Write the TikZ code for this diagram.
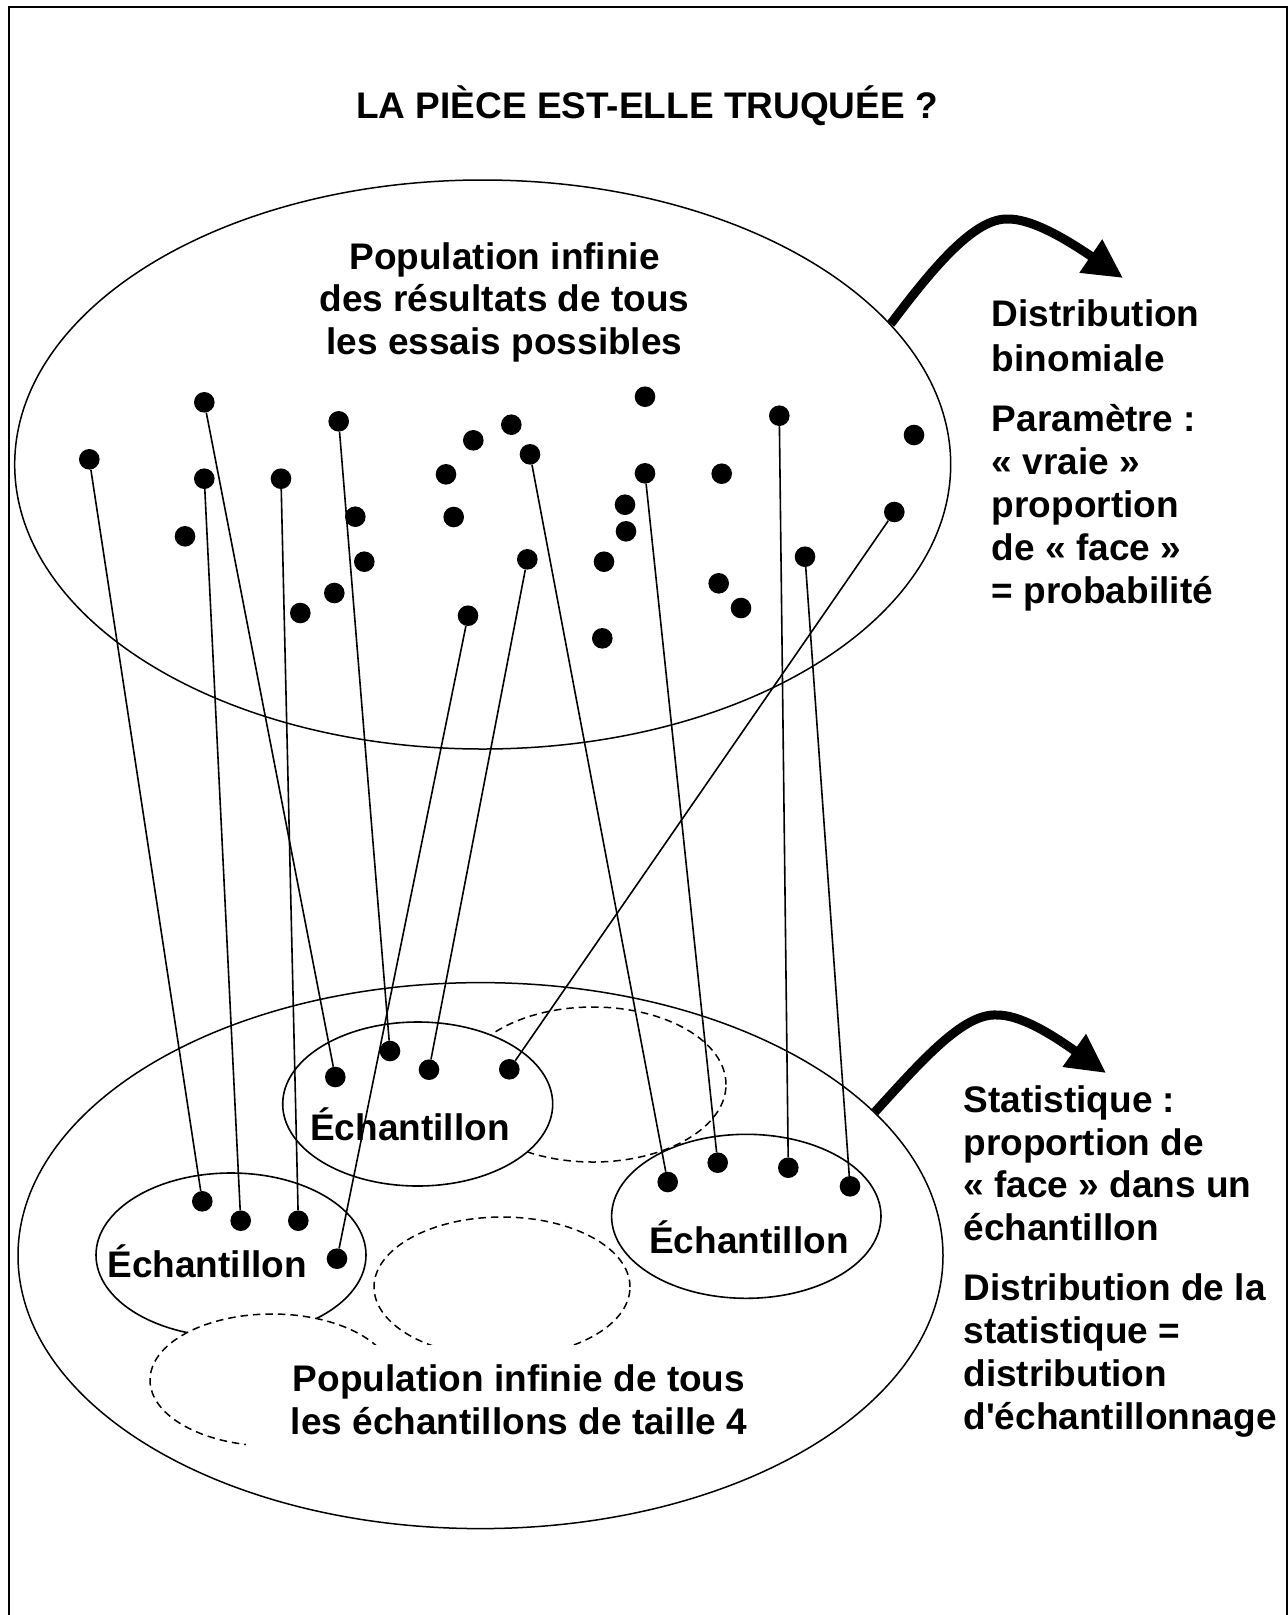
\documentclass[tikz,border=0pt]{standalone}
\usepackage{fontspec}
\setmainfont{Liberation Sans}
\usetikzlibrary{shapes.geometric,arrows.meta}
\begin{document}
\begin{tikzpicture}[x=1pt,y=-1pt,
  frameline/.style={line width=2pt},
  bigell/.style={ellipse,draw,line width=1.5pt,inner sep=0pt},
  sample/.style={ellipse,draw,fill=white,line width=1.6pt,inner sep=0pt,minimum width=270pt,minimum height=164pt},
  dashell/.style={ellipse,draw,fill=white,line width=1.5pt,dash pattern=on 7.5pt off 5pt,inner sep=0pt},
  dot/.style={circle,fill=black,inner sep=0pt,minimum size=20.6pt},
  link/.style={line width=1.6pt},
  txt/.style={font=\fontsize{37}{42.5}\selectfont\bfseries,inner sep=0pt},
  bigarrow/.style={line width=9pt,-{Triangle[length=39pt,width=38pt]}}
]
\useasboundingbox (0,0) rectangle (1288,1615);
\draw[frameline] (9,1630) -- (9,7) -- (1287,7) -- (1287,1630);

% title
\node[txt,anchor=base] (title) at (647,118.5) {LA PIÈCE EST-ELLE TRUQUÉE ?};

% population ellipses
\node[bigell,minimum width=936pt,minimum height=569pt] (popA) at (482.7,464.5) {};
\node[bigell,minimum width=925pt,minimum height=546pt] (popB) at (480.5,1255.6) {};

% sample ellipses (dashed ones are other possible samples)
\node[dashell,minimum width=266pt,minimum height=155pt] (dTR) at (593,1084.5) {};
\node[sample] (sM) at (417.7,1104) {};
\node[sample,minimum width=269.4pt] (sR) at (746.3,1216.3) {};
\node[sample] (sL) at (231,1255) {};
\node[dashell,minimum width=256pt,minimum height=140pt] (dC) at (502,1287) {};
\node[dashell,minimum width=244pt,minimum height=132pt] (dBL) at (272,1380) {};

% white box behind the lower population text
\fill[white] (246,1345) rectangle (760,1450);
\node[txt,anchor=base] (popBa) at (519,1391.7) {Population infinie de tous};
\node[txt,anchor=base] (popBb) at (519,1434) {les échantillons de taille 4};

% upper population text
\node[txt,anchor=base] (popAa) at (504.5,269) {Population infinie};
\node[txt,anchor=base] (popAb) at (504.5,311.5) {des résultats de tous};
\node[txt,anchor=base] (popAc) at (504.5,354) {les essais possibles};

% dots of the upper population
\foreach \n/\x/\y in {1/89.3/459.3, 2/204.3/402.3, 3/338.7/421.3, 4/473.3/440.3,
  5/204.3/478.7, 6/281/478.7, 7/446/474.3, 8/453.7/517, 9/185/536.3,
  10/355.3/516.7, 11/364.3/561.7, 12/334.3/593, 13/300.3/613, 14/468/615.7,
  15/511.3/424.7, 16/645/396.7, 17/779.3/415.7, 18/914/435, 19/530/454.3,
  20/645/473.3, 21/721.7/473.7, 22/625/504.7, 23/626/531.3, 24/894.3/512,
  25/527.3/559.3, 26/604/561.7, 27/805/556.7, 28/718.7/583.3, 29/741/608,
  30/602.3/638.3}
  \node[dot] (t\n) at (\x,\y) {};

% dots of the samples
\node[dot] (l1) at (202.3,1201.3) {};
\node[dot] (l2) at (240.7,1220.7) {};
\node[dot] (l3) at (298.3,1220.7) {};
\node[dot] (l4) at (337,1258.7) {};
\node[dot] (m1) at (335.3,1077) {};
\node[dot] (m2) at (390,1051) {};
\node[dot] (m3) at (429,1069.7) {};
\node[dot] (m4) at (509.3,1069.3) {};
\node[dot] (r1) at (667.7,1182) {};
\node[dot] (r2) at (717.7,1162.7) {};
\node[dot] (r3) at (788.3,1167.7) {};
\node[dot] (r4) at (850,1186.3) {};

% links
\draw[link] (t1) -- (l1);
\draw[link] (t5) -- (l2);
\draw[link] (t6) -- (l3);
\draw[link] (t14) -- (l4);
\draw[link] (t2) -- (m1);
\draw[link] (t3) -- (m2);
\draw[link] (t25) -- (m3);
\draw[link] (t24) -- (m4);
\draw[link] (t19) -- (r1);
\draw[link] (t20) -- (r2);
\draw[link] (t17) -- (r3);
\draw[link] (t27) -- (r4);

% sample labels
\node[txt,anchor=base] (labM) at (410,1140) {Échantillon};
\node[txt,anchor=base] (labL) at (207.2,1277.3) {Échantillon};
\node[txt,anchor=base] (labR) at (748.9,1253.3) {Échantillon};

% arrows
\coordinate (a1p) at (1008,219);
\coordinate (a1t) at (1123,278);
\draw[bigarrow] (popA.19.6) .. controls (935,265) and (975,218) .. (a1p)
  .. controls (1030,219) and (1060,235) .. (a1t);
\coordinate (a2p) at (997,1015);
\coordinate (a2t) at (1106,1073);
\draw[bigarrow] (popB.20) .. controls (924,1058) and (964,1013) .. (a2p)
  .. controls (1019,1015) and (1047,1031) .. (a2t);

% right texts, upper
\node[txt,anchor=base west] (da1) at (991.7,326.7) {Distribution};
\node[txt,anchor=base west] (da2) at (991.7,371) {binomiale};
\node[txt,anchor=base west] (pa1) at (991.7,431) {Paramètre :};
\node[txt,anchor=base west] (pa2) at (991.7,474) {« vraie »};
\node[txt,anchor=base west] (pa3) at (991.7,517) {proportion};
\node[txt,anchor=base west] (pa4) at (991.7,560) {de « face »};
\node[txt,anchor=base west] (pa5) at (991.7,603) {= probabilité};

% right texts, lower
\node[txt,anchor=base west] (sa1) at (963.3,1112) {Statistique :};
\node[txt,anchor=base west] (sa2) at (963.3,1155) {proportion de};
\node[txt,anchor=base west] (sa3) at (963.3,1197.5) {« face » dans un};
\node[txt,anchor=base west] (sa4) at (963.3,1240) {échantillon};
\node[txt,anchor=base west] (sb1) at (963.3,1300.5) {Distribution de la};
\node[txt,anchor=base west] (sb2) at (963.3,1343.5) {statistique =};
\node[txt,anchor=base west] (sb3) at (963.3,1386.5) {distribution};
\node[txt,anchor=base west] (sb4) at (963.3,1429.5) {d\textquotesingle échantillonnage};
\end{tikzpicture}
\end{document}
